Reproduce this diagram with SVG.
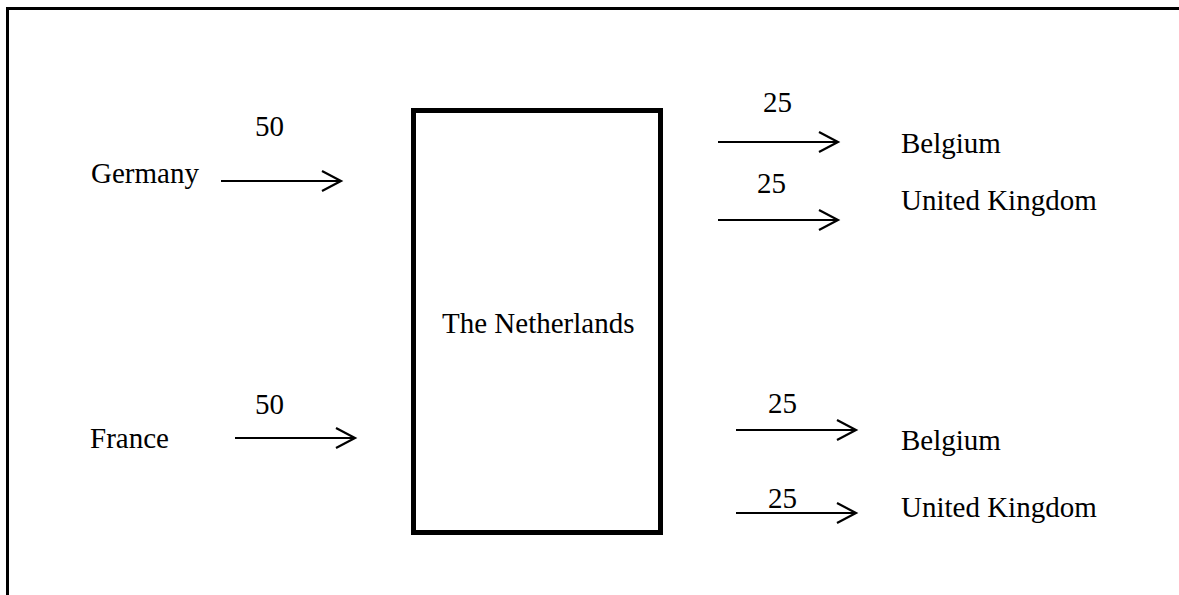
<svg xmlns="http://www.w3.org/2000/svg" width="1179" height="595" viewBox="0 0 1179 595">
<style>
text{font-family:"Liberation Serif","Times New Roman",serif;font-size:29px;fill:#000}
.ar{stroke:#000;stroke-width:2.2;fill:none}
</style>
<defs>
<marker id="ah" markerUnits="userSpaceOnUse" markerWidth="24" markerHeight="24" refX="20" refY="11" orient="auto">
<path d="M1,1 L20,11 L1,21" fill="none" stroke="#000" stroke-width="2.2"/>
</marker>
</defs>
<rect x="0" y="0" width="1179" height="595" fill="#fff"/>
<path d="M7.5,595 L7.5,8.5 L1179,8.5" fill="none" stroke="#000" stroke-width="3"/>
<g id="netherlands">
<rect x="413.5" y="110.5" width="247" height="422" fill="none" stroke="#000" stroke-width="5"/>
<text x="442" y="333">The Netherlands</text>
</g>
<g id="germany"><text x="91" y="183">Germany</text></g>
<g id="france"><text x="90" y="448">France</text></g>
<g id="belgium1"><text x="901" y="153">Belgium</text></g>
<g id="uk1"><text x="901" y="210">United Kingdom</text></g>
<g id="belgium2"><text x="901" y="450">Belgium</text></g>
<g id="uk2"><text x="901" y="517">United Kingdom</text></g>
<g id="connectors">
<line class="ar" x1="221" y1="181" x2="341" y2="181" marker-end="url(#ah)"/>
<line class="ar" x1="235" y1="438" x2="355" y2="438" marker-end="url(#ah)"/>
<line class="ar" x1="718" y1="142" x2="838" y2="142" marker-end="url(#ah)"/>
<line class="ar" x1="718" y1="220" x2="838" y2="220" marker-end="url(#ah)"/>
<line class="ar" x1="736" y1="430" x2="856" y2="430" marker-end="url(#ah)"/>
<line class="ar" x1="736" y1="513" x2="856" y2="513" marker-end="url(#ah)"/>
<text x="255" y="136">50</text>
<text x="255" y="414">50</text>
<text x="763" y="112">25</text>
<text x="757" y="193">25</text>
<text x="768" y="413">25</text>
<text x="768" y="508">25</text>
</g>
</svg>
